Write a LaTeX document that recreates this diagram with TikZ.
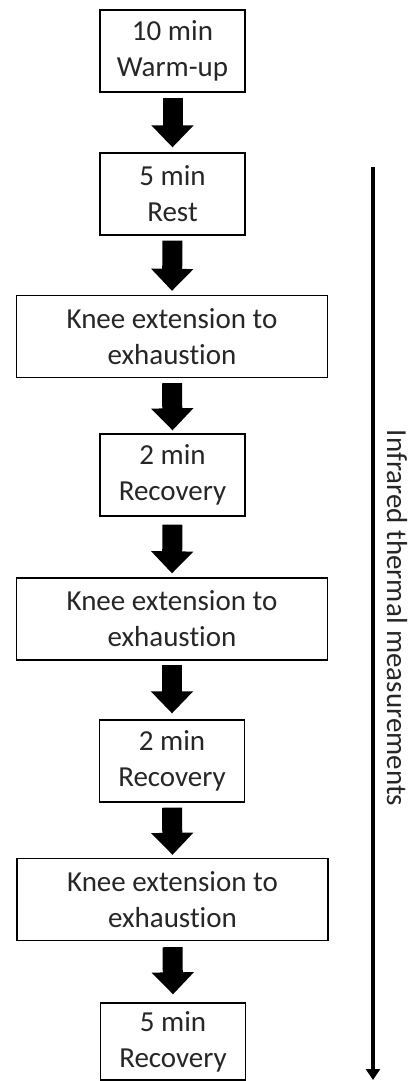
\documentclass[tikz,border=0pt]{standalone}
\usepackage{fontspec}
\setmainfont{Carlito}[Ligatures=NoCommon]
\usetikzlibrary{arrows.meta}

\tikzset{
  stage/.style={draw, line width=1.3pt, align=center, inner sep=0pt,
    minimum height=82pt, text=black!85, font=\fontsize{29}{36}\selectfont},
  narrow/.style={stage, minimum width=145pt},
  wide/.style={stage, minimum width=311pt},
  flowarrow/.style={line width=20pt, -{Triangle[width=41pt,length=22pt]}},
  timeline/.style={line width=4.5pt, -{Triangle[width=14pt,length=11pt]}}
}

\begin{document}
\begin{tikzpicture}[x=1pt,y=-1pt]
\useasboundingbox (0,0) rectangle (408,1081);

\node[narrow] (warmup) at (172.5,51) {10 min\\Warm-up};
\node[narrow] (rest) at (172.5,194) {5 min\\Rest};
\node[wide] (knee1) at (172,336.5) {Knee extension to\\exhaustion};
\node[narrow] (rec1) at (172.5,475) {2 min\\Recovery};
\node[wide] (knee2) at (172,619) {Knee extension to\\exhaustion};
\node[narrow] (rec2) at (172,761) {2 min\\Recovery};
\node[wide] (knee3) at (172.5,899.5) {Knee extension to\\exhaustion};
\node[narrow, minimum height=77pt] (rec3) at (173,1041.5) {5 min\\Recovery};

\draw[flowarrow] ([yshift=-5pt]warmup.south) -- ([yshift=5pt]rest.north);
\draw[flowarrow] ([yshift=-5pt]rest.south) -- ([yshift=4pt]knee1.north);
\draw[flowarrow] ([yshift=-5pt]knee1.south) -- ([yshift=3pt]rec1.north);
\draw[flowarrow] ([yshift=-8pt]rec1.south) -- ([yshift=4pt]knee2.north);
\draw[flowarrow] ([yshift=-4pt]knee2.south) -- ([yshift=6pt]rec2.north);
\draw[flowarrow] ([yshift=-5pt]rec2.south) -- ([yshift=3pt]knee3.north);
\draw[flowarrow] ([yshift=-6pt]knee3.south) -- ([yshift=8pt]rec3.north);

\coordinate (start) at (373,167);
\coordinate (stop) at (373,1080);
\draw[timeline] (start) -- (stop);
\node[rotate=-90, inner sep=0pt, text=black!85, font=\fontsize{29}{34}\selectfont] (irt) at (397,618) {Infrared thermal measurements};

\end{tikzpicture}
\end{document}
